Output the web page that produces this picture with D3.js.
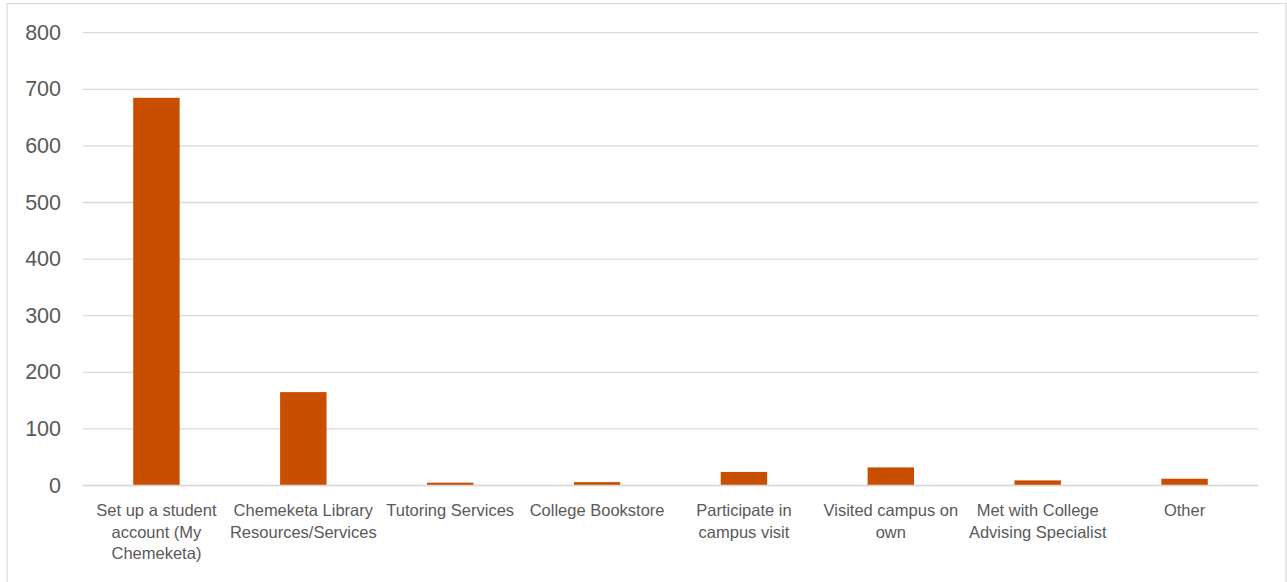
<!DOCTYPE html>
<html>
<head>
<meta charset="utf-8">
<script src="https://cdn.jsdelivr.net/npm/d3@7"></script>
<style>
  html, body { margin: 0; padding: 0; background: #fff; }
  svg { display: block; }
</style>
</head>
<body>
<svg id="chart" width="1287" height="582"></svg>
<script>
const categories = [
  "Set up a student\naccount (My\nChemeketa)",
  "Chemeketa Library\nResources/Services",
  "Tutoring Services",
  "College Bookstore",
  "Participate in\ncampus visit",
  "Visited campus on\nown",
  "Met with College\nAdvising Specialist",
  "Other"
];
const values = [685, 165, 5, 6, 24, 32, 9, 12];
const yTicks = [0, 100, 200, 300, 400, 500, 600, 700, 800];

(function () {
const svg = d3.select("#chart");
const W = 1287, H = 582;
const plotL = 83, plotR = 1258, plotT = 32.7, plotB = 485.5;

// border
svg.append("path")
  .attr("d", `M7,${H + 2} L7,3.5 L1286,3.5 L1286,${H + 2}`)
  .attr("fill", "none")
  .attr("stroke", "#d9d9d9")
  .attr("stroke-width", 1.2);

const x = d3.scaleBand().domain(categories).range([plotL, plotR]).padding(0);
const y = d3.scaleLinear().domain([0, 800]).range([plotB, plotT]);

// gridlines
svg.append("g").selectAll("line").data(yTicks).join("line")
  .attr("x1", plotL).attr("x2", plotR)
  .attr("y1", d => y(d)).attr("y2", d => y(d))
  .attr("stroke", "#d9d9d9")
  .attr("stroke-width", 1.3);

// y tick labels
svg.append("g").selectAll("text").data(yTicks).join("text")
  .attr("x", 61).attr("y", d => y(d))
  .attr("text-anchor", "end")
  .attr("dominant-baseline", "central")
  .attr("font-family", "Liberation Sans, Arial, sans-serif")
  .attr("font-size", 21.5)
  .attr("fill", "#595959")
  .text(d => d);

// bars
const bw = x.bandwidth() * 0.316;
svg.append("g").selectAll("rect").data(values).join("rect")
  .attr("x", (d, i) => x(categories[i]) + x.bandwidth() / 2 - bw / 2)
  .attr("width", bw)
  .attr("y", d => y(d))
  .attr("height", d => y(0) - y(d))
  .attr("fill", "#c84e00");

// baseline
svg.append("line")
  .attr("x1", plotL).attr("x2", plotR)
  .attr("y1", y(0)).attr("y2", y(0))
  .attr("stroke", "#d9d9d9")
  .attr("stroke-width", 1.5);

// x labels
const xl = svg.append("g").selectAll("text").data(categories).join("text")
  .attr("text-anchor", "middle")
  .attr("font-family", "Liberation Sans, Arial, sans-serif")
  .attr("font-size", 16.5)
  .attr("fill", "#595959")
  .attr("transform", d => `translate(${x(d) + x.bandwidth() / 2},516)`);
xl.each(function(d) {
  const t = d3.select(this);
  d.split("\n").forEach((line, i) => {
    t.append("tspan").attr("x", 0).attr("y", i * 21.7).text(line);
  });
});
})();
</script>
</body>
</html>
